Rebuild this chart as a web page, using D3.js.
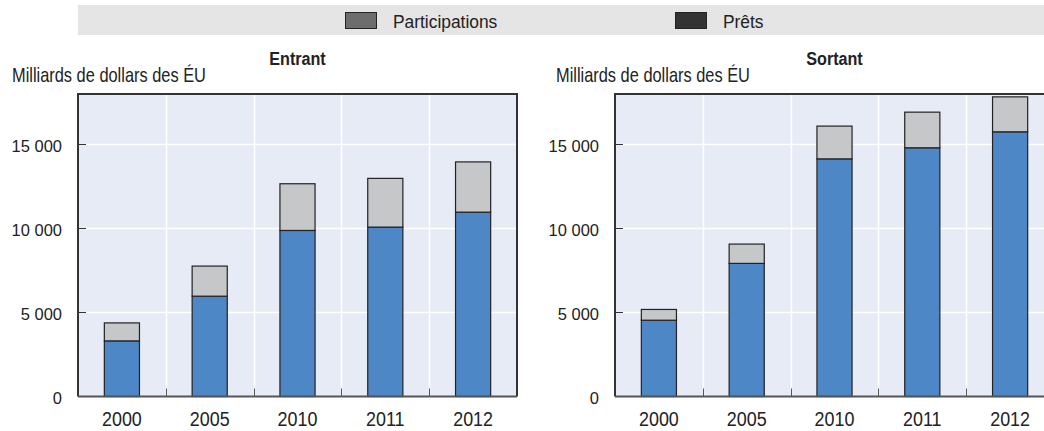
<!DOCTYPE html>
<html>
<head>
<meta charset="utf-8">
<script src="https://cdn.jsdelivr.net/npm/d3@7"></script>
<style>
  body { margin: 0; background: #fff; }
  svg { display: block; }
  text { font-family: "Liberation Sans", Arial, sans-serif; fill: #222; }
</style>
</head>
<body>
<script>
// data, milliards de dollars des ÉU
var years = ['2000', '2005', '2010', '2011', '2012'];
var seriesNames = ['Participations', 'Prêts'];
var entrantParticipations = [3310, 5970, 9880, 10080, 10970];
var entrantPrets = [1070, 1790, 2780, 2900, 2990];
var sortantParticipations = [4540, 7920, 14140, 14800, 15750];
var sortantPrets = [640, 1150, 1950, 2120, 2080];
var yTicks = [0, 5000, 10000, 15000];

var barColors = ['#4e87c5', '#c6c7c9'];
var legendColors = ['#6d6d6d', '#333333'];

var W = 1044, H = 431;
var svg = d3.select('body').append('svg')
    .attr('width', W)
    .attr('height', H);

// no narrow font installed, so squeeze the text sideways a bit
function drawText(parent, str, x, y, size, sx, anchor, bold) {
  return parent.append('text')
      .attr('transform', 'translate(' + x + ',' + y + ') scale(' + sx + ',1)')
      .attr('font-size', size)
      .attr('font-weight', bold ? 'bold' : null)
      .attr('text-anchor', anchor || 'start')
      .text(str);
}

// legend band
svg.append('rect')
    .attr('x', 78).attr('y', 5)
    .attr('width', W - 78).attr('height', 30)
    .attr('fill', '#e5e5e6');

var legendX = [345, 675];
seriesNames.forEach(function(name, i) {
  svg.append('rect')
      .attr('x', legendX[i] + 0.5).attr('y', 12.5)
      .attr('width', 31).attr('height', 16)
      .attr('fill', legendColors[i])
      .attr('stroke', '#222');
  drawText(svg, name, legendX[i] + 48, 27.5, 18.5, 0.94);
});

function drawPanel(x0, title, unitX, part, pret) {
  var w = 439, top = 94, bottom = 396.5;
  var g = svg.append('g');

  var x = d3.scaleBand().domain(years).range([x0, x0 + w]).paddingInner(0.6).paddingOuter(0.3);
  var xb = d3.scaleBand().domain(years).range([x0, x0 + w]);
  var y = d3.scaleLinear().domain([0, 18000]).range([bottom, top]);

  g.append('rect')
      .attr('x', x0).attr('y', top)
      .attr('width', w).attr('height', bottom - top)
      .attr('fill', '#e7ebf6');

  // grid
  g.selectAll('.hg').data(yTicks.slice(1)).enter().append('line')
      .attr('x1', x0).attr('x2', x0 + w)
      .attr('y1', function(d) { return Math.round(y(d)) + 0.5; })
      .attr('y2', function(d) { return Math.round(y(d)) + 0.5; })
      .attr('stroke', '#fff').attr('stroke-width', 1.5);
  g.selectAll('.vg').data(years.slice(1)).enter().append('line')
      .attr('x1', function(d) { return Math.round(xb(d)) + 0.5; })
      .attr('x2', function(d) { return Math.round(xb(d)) + 0.5; })
      .attr('y1', top).attr('y2', bottom)
      .attr('stroke', '#fff').attr('stroke-width', 1.5);

  // bars
  var stackData = years.map(function(yr, i) { return { year: yr, a: part[i], b: pret[i] }; });
  var stack = d3.stack().keys(['a', 'b'])(stackData);
  g.selectAll('.layer').data(stack).enter().append('g')
      .attr('fill', function(d, i) { return barColors[i]; })
    .selectAll('rect').data(function(d) { return d; }).enter().append('rect')
      .attr('x', function(d) { return x(d.data.year); })
      .attr('y', function(d) { return y(d[1]); })
      .attr('width', x.bandwidth())
      .attr('height', function(d) { return y(d[0]) - y(d[1]); })
      .attr('stroke', '#222')
      .attr('stroke-width', 1.2);

  // x ticks inward at band edges
  g.selectAll('.xt').data(years.slice(1)).enter().append('line')
      .attr('x1', function(d) { return Math.round(xb(d)) + 0.5; })
      .attr('x2', function(d) { return Math.round(xb(d)) + 0.5; })
      .attr('y1', bottom).attr('y2', bottom - 8)
      .attr('stroke', '#555').attr('stroke-width', 1);

  // y ticks inward
  g.selectAll('.yt').data(yTicks.slice(1)).enter().append('line')
      .attr('x1', x0).attr('x2', x0 + 8)
      .attr('y1', function(d) { return Math.round(y(d)) + 0.5; })
      .attr('y2', function(d) { return Math.round(y(d)) + 0.5; })
      .attr('stroke', '#333').attr('stroke-width', 1);

  // frame
  g.append('path')
      .attr('d', 'M' + x0 + ',' + bottom + 'V' + top + 'H' + (x0 + w) + 'V' + bottom)
      .attr('fill', 'none').attr('stroke', '#333').attr('stroke-width', 2);
  g.append('line')
      .attr('x1', x0).attr('x2', x0 + w)
      .attr('y1', bottom).attr('y2', bottom)
      .attr('stroke', '#555').attr('stroke-width', 2);

  // labels
  var fmt = function(v) { return d3.format(',')(v).replace(/,/g, ' '); };
  yTicks.forEach(function(v) {
    drawText(g, fmt(v), x0 - 16, y(v) + 7.5, 17, 0.97, 'end');
  });
  years.forEach(function(yr) {
    drawText(g, yr, xb(yr) + xb.bandwidth() / 2, 426, 19.5, 0.92, 'middle');
  });

  drawText(g, title, x0 + w / 2, 65, 19, 0.85, 'middle', true);
  drawText(g, 'Milliards de dollars des ÉU', unitX, 81.5, 20, 0.82);
}

drawPanel(78, 'Entrant', 12, entrantParticipations, entrantPrets);
drawPanel(615, 'Sortant', 556, sortantParticipations, sortantPrets);
</script>
</body>
</html>
